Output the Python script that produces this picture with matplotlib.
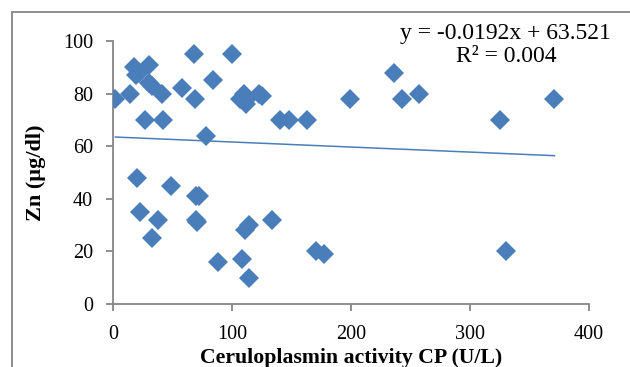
import matplotlib.pyplot as plt
from matplotlib.patches import Rectangle
import numpy as np

# Ceruloplasmin activity CP (U/L) vs Zn (ug/dl)
cp = [2, 14, 18, 22, 30, 19, 30, 33, 41, 27, 42, 58, 69, 68, 100, 84, 78,
      107, 110, 112, 113, 123, 125, 140, 148, 163, 199, 236, 243, 257, 325, 371,
      171, 177, 330, 20, 23, 38, 33, 49, 70, 72, 70, 71, 88, 108, 114, 111, 114, 134]
zn = [78, 80, 90, 88, 91, 87, 84, 83, 80, 70, 70, 82, 78, 95, 95, 85, 64,
      78, 80, 76, 78, 80, 79, 70, 70, 70, 78, 88, 78, 80, 70, 78,
      20, 19, 20, 48, 35, 32, 25, 45, 41, 41, 32, 31, 16, 17, 10, 28, 30, 32]

slope = -0.0192
intercept = 63.521
eq_text = 'y = -0.0192x + 63.521'
r2_text = 'R² = 0.004'

blue = '#4a7ebb'
grey = '#868686'
plt.rcParams['font.family'] = ['Liberation Serif', 'DejaVu Serif']

fig = plt.figure(figsize=(6.3, 3.67), dpi=100)
ax = fig.add_axes([113/630, 63/367, 476/630, 263/367])

ax.plot(cp, zn, 'D', color=blue, markersize=10, markeredgewidth=0, zorder=3)
xs = np.array([min(cp), max(cp)])
ax.plot(xs, slope * xs + intercept, color=blue, linewidth=1.1, zorder=2)

ax.set_xlim(0, 400)
ax.set_ylim(0, 100)
ax.set_xticks([0, 100, 200, 300, 400])
ax.set_yticks([0, 20, 40, 60, 80, 100])
for s in ['top', 'right']:
    ax.spines[s].set_visible(False)
for s in ['left', 'bottom']:
    ax.spines[s].set_color(grey)
    ax.spines[s].set_linewidth(1.3)
ax.tick_params(direction='out', length=5, width=1.3, color=grey, labelsize=14.5)
ax.tick_params(axis='x', pad=10)
ax.tick_params(axis='y', pad=9.5)

ax.set_xlabel('Ceruloplasmin activity CP (U/L)', fontsize=15.7, fontweight='bold', labelpad=3)
ax.set_ylabel('Zn (µg/dl)', fontsize=16, fontweight='bold', labelpad=12)

fig.text(505/630, 1 - 33/367, eq_text, fontsize=17, ha='center', va='center')
fig.text(506/630, 1 - 57/367, r2_text, fontsize=17, ha='center', va='center')

fig.patches.append(Rectangle((12/630, -0.05), 1.0, 1 - 12/367 + 0.05, transform=fig.transFigure,
                             fill=False, edgecolor=grey, linewidth=1.3))

fig.savefig('out.png', dpi=100)
